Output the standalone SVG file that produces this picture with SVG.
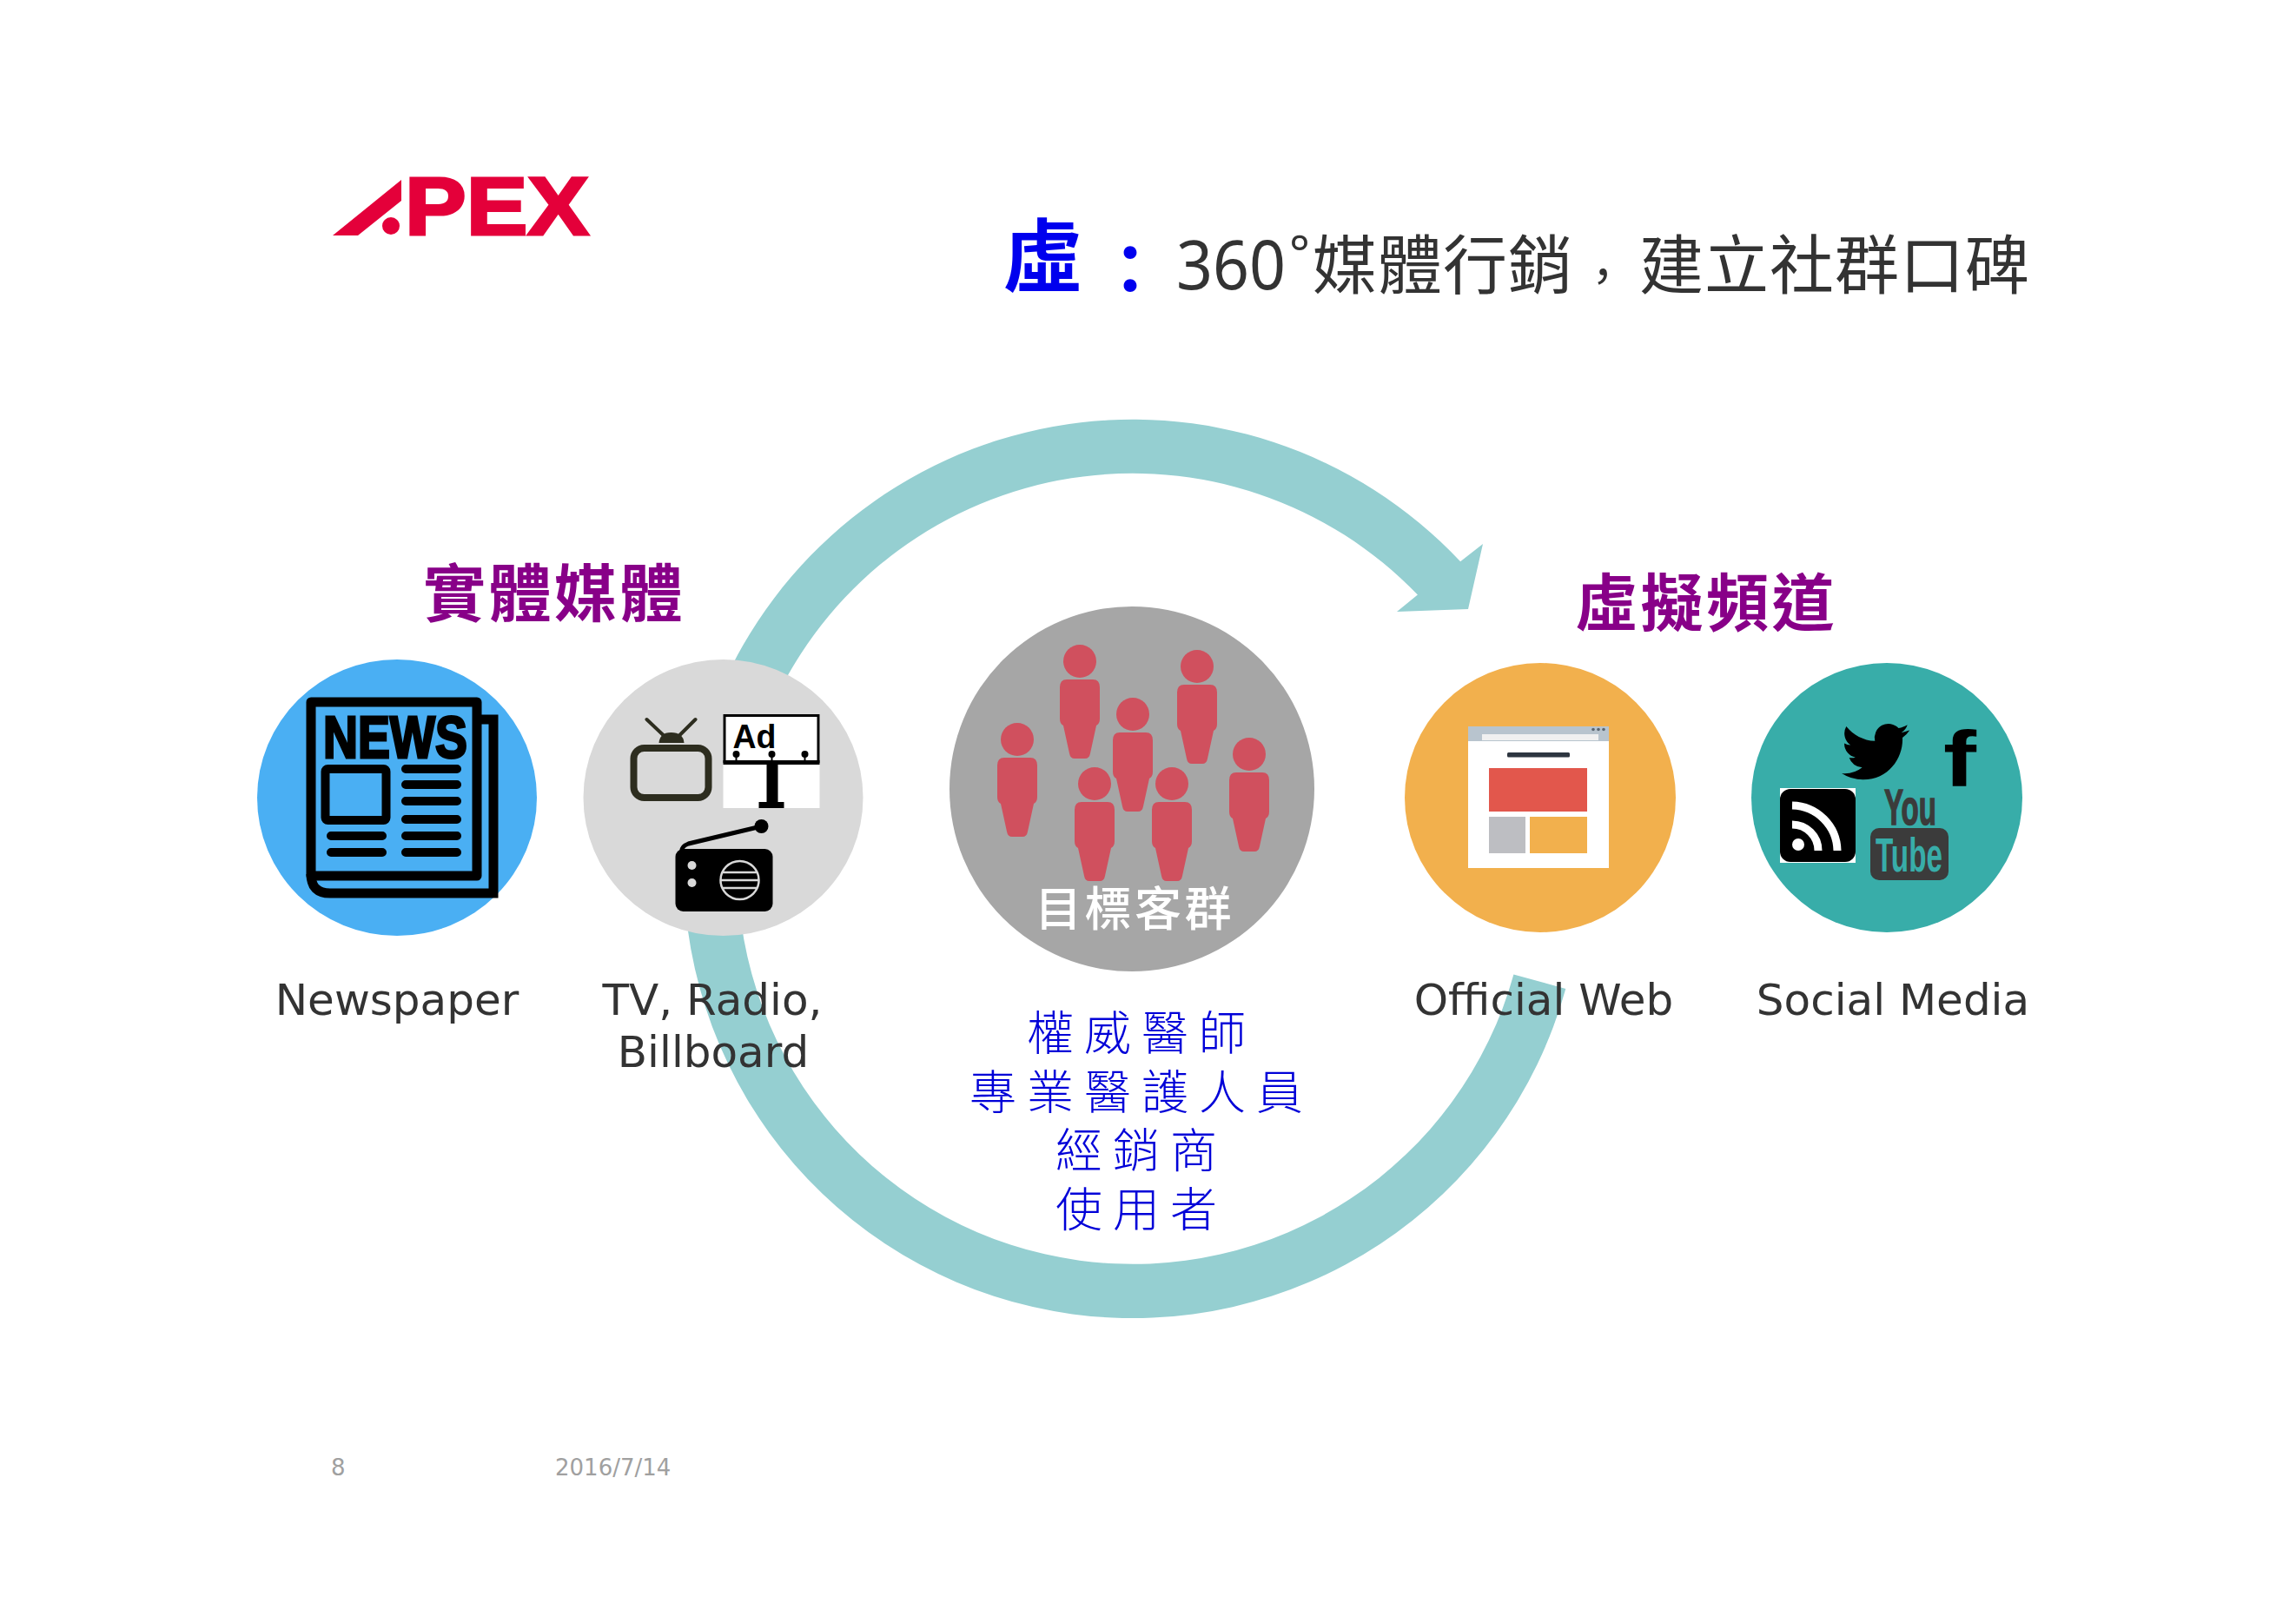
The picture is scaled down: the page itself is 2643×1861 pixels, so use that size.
<svg xmlns="http://www.w3.org/2000/svg" width="2643" height="1861" viewBox="0 0 2643 1861">
<style>
text{font-family:"DejaVu Sans","Noto Sans CJK TC",sans-serif}
.cjk{font-family:"Noto Sans CJK TC","Noto Sans",sans-serif}
.lat{font-size:50px;fill:#333;text-anchor:middle}
.blue{font-size:54px;fill:#0000d8;text-anchor:middle;letter-spacing:12px;font-weight:300}
.pur{font-size:72px;fill:#880088;font-weight:700;letter-spacing:3.500px}
.foot{font-size:26px;fill:#a0a0a0}
.ttl{font-size:74px;fill:#333;letter-spacing:1px}
.p{fill:#d0505e}
.ln{stroke:#000;stroke-width:10;stroke-linecap:round;fill:none}
</style>
<defs>
<g id="person"><circle r="19"/><path d="M-15 21H15Q23 21 23 30V66Q23 72 19 74L12 106Q11 112 6 112H-6Q-11 112-12 106L-19 74Q-23 72-23 66V30Q-23 21-15 21Z"/></g>
</defs>
<rect width="2643" height="1861" fill="#fff"/>
<g id="logo" fill="#e4003a">
<path d="M383 271L462 207V231L412 271Z"/><circle cx="450" cy="260" r="10"/>
<text x="466" y="270" font-size="94" fill="#e4003a" stroke="#e4003a" stroke-width="3" textLength="212" lengthAdjust="spacingAndGlyphs" style="font-family:'Liberation Sans',sans-serif;font-weight:700">PEX</text>
</g>
<g id="title">
<text x="1154" y="329" class="cjk" font-size="92" font-weight="700" fill="#0000ee">虛</text>
<text x="1262" y="339" class="cjk" font-size="78" font-weight="700" fill="#0000ee">：</text>
<text x="1354" y="333" font-size="78" fill="#333" textLength="126" lengthAdjust="spacingAndGlyphs" style="font-family:'Noto Sans',sans-serif">360</text>
<text x="1484" y="312" font-size="56" fill="#333" style="font-family:'Noto Sans',sans-serif">°</text>
<text x="1511" y="332" class="cjk ttl">媒體行銷</text>
<text x="1845" y="338" class="cjk" font-size="54" fill="#333" text-anchor="middle">，</text>
<text x="1887" y="332" class="cjk ttl">建立社群口碑</text>
</g>
<g id="connectors" fill="#95cfd1">
<path id="arc-top" d="M827 800A517 517 0 0 1 1681.100 646.300L1707 626L1690 701L1608 704L1631.900 684.600A455 455 0 0 0 895 800Z"/>
<path id="arc-bottom" d="M787 1000A517 517 0 0 0 1802.300 1137.900L1742.400 1121.600A455 455 0 0 1 849 1000Z"/>
</g>
<text x="487" y="709" class="cjk pur">實體媒體</text>
<text x="1813" y="720" class="cjk pur">虛擬頻道</text>
<g id="newspaper" transform="translate(-2 0)">
<ellipse cx="459" cy="918" rx="161" ry="159" fill="#4aaff3"/>
<rect x="360" y="808" width="191" height="200" fill="none" stroke="#000" stroke-width="11" stroke-linejoin="round"/>
<path d="M556 828H570V1028H382Q360 1028 360 1006" fill="none" stroke="#000" stroke-width="11"/>
<text x="374" y="872" font-size="68" stroke="#000" stroke-width="3" textLength="166" lengthAdjust="spacingAndGlyphs" style="font-family:'Liberation Sans',sans-serif;font-weight:700">NEWS</text>
<rect x="376.500" y="885" width="70" height="59" rx="3" fill="none" stroke="#000" stroke-width="10"/>
<path class="ln" d="M469 885H528M469 903H528M469 922H528M469 943H528M469 962H528M469 981H528M383 962H442M383 981H442"/>
</g>
<g id="tv-radio-billboard" transform="translate(-2.500 0)">
<ellipse cx="835" cy="918" rx="161" ry="159" fill="#d9d9d9"/>
<rect x="732" y="861" width="86" height="57" rx="12" fill="none" stroke="#2d2d1f" stroke-width="8"/>
<path d="M761 855Q762 843 775 843Q789 843 790 855Z" fill="#2d2d1f"/>
<path d="M766 846L747 828M785 846L803 828" stroke="#2d2d1f" stroke-width="4" stroke-linecap="round"/>
<rect x="835" y="822" width="111" height="108" fill="#fff"/>
<path d="M836.500 878V823.500H944.500V878" fill="none" stroke="#000" stroke-width="3"/>
<rect x="835" y="875" width="111" height="5"/>
<text x="846" y="861" font-size="39" fill="#000" textLength="50" lengthAdjust="spacingAndGlyphs" style="font-family:'Liberation Sans',sans-serif;font-weight:700">Ad</text>
<circle cx="850" cy="868" r="4"/><circle cx="891" cy="868" r="4"/><circle cx="929" cy="868" r="4"/>
<path d="M850 868V876M891 868V876M929 868V876" stroke="#000" stroke-width="2"/>
<rect x="885" y="880" width="13" height="44"/><rect x="876" y="923" width="29" height="7"/>
<rect x="780" y="977" width="112" height="72" rx="9"/>
<path d="M787 980Q787 974 795 971L879 951" fill="none" stroke="#000" stroke-width="5"/>
<circle cx="879" cy="951" r="8"/>
<circle cx="799" cy="996" r="5" fill="#d9d9d9"/><circle cx="799" cy="1016" r="5" fill="#d9d9d9"/>
<ellipse cx="854" cy="1013" rx="22" ry="22" fill="none" stroke="#d9d9d9" stroke-width="2.500"/>
<path d="M834 1004H874M832 1013H876M834 1022H874" stroke="#d9d9d9" stroke-width="2.500"/>
</g>
<g id="target-group">
<circle cx="1303" cy="908" r="210" fill="#a6a6a6"/>
<g class="p">
<use href="#person" x="1243" y="761"/><use href="#person" x="1378" y="767"/><use href="#person" x="1304" y="822"/>
<use href="#person" x="1171" y="851"/><use href="#person" x="1438" y="868"/><use href="#person" x="1260" y="902"/><use href="#person" x="1349" y="902"/>
</g>
<text x="1306" y="1066" class="cjk" font-size="54" font-weight="500" letter-spacing="3.400" fill="#fff" text-anchor="middle">目標客群</text>
</g>
<g id="official-web">
<ellipse cx="1773" cy="918" rx="156" ry="155" fill="#f2b04d"/>
<g transform="translate(-2 0)">
<rect x="1692" y="836" width="162" height="163" fill="#fff"/>
<rect x="1692" y="836" width="162" height="17" fill="#b8c4ce"/>
<rect x="1708" y="845" width="134" height="7" fill="#f0f0f0"/>
<circle cx="1836" cy="839.500" r="1.800" fill="#5b6670"/><circle cx="1842" cy="839.500" r="1.800" fill="#5b6670"/><circle cx="1848" cy="839.500" r="1.800" fill="#5b6670"/>
<rect x="1737" y="866" width="72" height="5.500" rx="1.500" fill="#2d3540"/>
<rect x="1716" y="884" width="113" height="50" fill="#e2574c"/>
<rect x="1716" y="940" width="42" height="42" fill="#bdbec2"/>
<rect x="1763" y="940" width="66" height="42" fill="#f2b04d"/>
</g>
</g>
<g id="social-media">
<ellipse cx="2172" cy="918" rx="156" ry="155" fill="#38ada9"/>
<g transform="translate(-4 0)">
<path transform="translate(2124 825.500) scale(3.250 3.300)" d="M23.953 4.570a10 10 0 01-2.825.775 4.958 4.958 0 002.163-2.723c-.951.555-2.005.959-3.127 1.184a4.920 4.920 0 00-8.384 4.482C7.690 8.095 4.067 6.130 1.640 3.162a4.822 4.822 0 00-.666 2.475c0 1.710.870 3.213 2.188 4.096a4.904 4.904 0 01-2.228-.616v.060a4.923 4.923 0 003.946 4.827 4.996 4.996 0 01-2.212.085 4.936 4.936 0 004.604 3.417 9.867 9.867 0 01-6.102 2.105c-.390 0-.779-.023-1.170-.067a13.995 13.995 0 007.557 2.209c9.053 0 13.998-7.496 13.998-13.985 0-.210 0-.420-.015-.630A9.935 9.935 0 0024 4.590z"/>
<text x="2241" y="905" font-size="90" fill="#000" textLength="38" lengthAdjust="spacingAndGlyphs" style="font-family:'Liberation Sans',sans-serif;font-weight:700">f</text>
<rect x="2053" y="907" width="87" height="86" fill="#fff"/>
<rect x="2053" y="908" width="87" height="84" rx="12"/>
<circle cx="2074" cy="972" r="7" fill="#fff"/>
<path d="M2067 949A30 30 0 0 1 2097 979M2067 927A53 53 0 0 1 2119 979" fill="none" stroke="#fff" stroke-width="9"/>
<text x="2173" y="949" font-size="58" fill="#3b3b3b" stroke="#3b3b3b" stroke-width="1.500" textLength="60" lengthAdjust="spacingAndGlyphs" style="font-family:'Liberation Sans',sans-serif;font-weight:700">You</text>
<rect x="2157" y="953" width="90" height="60" rx="10" fill="#3b3b3b"/>
<text x="2163" y="1003" font-size="55" fill="#38ada9" textLength="77" lengthAdjust="spacingAndGlyphs" style="font-family:'Liberation Sans',sans-serif;font-weight:700">Tube</text>
</g>
</g>
<g id="labels">
<text x="457" y="1168" class="lat">Newspaper</text>
<text x="820" y="1168" class="lat">TV, Radio,</text>
<text x="821" y="1228" class="lat">Billboard</text>
<text x="1777" y="1168" class="lat">Official Web</text>
<text x="2179" y="1168" class="lat">Social Media</text>
<text x="1314" y="1209" class="cjk blue">權威醫師</text>
<text x="1314" y="1277" class="cjk blue">專業醫護人員</text>
<text x="1314" y="1344" class="cjk blue">經銷商</text>
<text x="1314" y="1412" class="cjk blue">使用者</text>
<text x="381" y="1698" class="foot">8</text>
<text x="639" y="1698" class="foot">2016/7/14</text>
</g>
</svg>
